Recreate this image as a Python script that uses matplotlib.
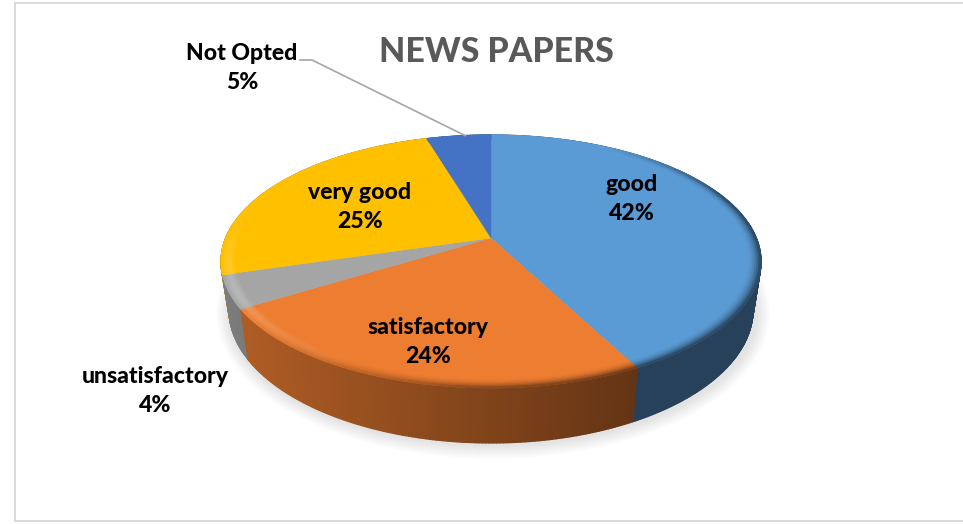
import numpy as np
import matplotlib
matplotlib.use('Agg')
import matplotlib.pyplot as plt
from matplotlib.collections import PolyCollection
from matplotlib.colors import to_rgb
from matplotlib.patches import Ellipse, Rectangle

# data, clockwise from 12 o'clock
categories = ['good', 'satisfactory', 'unsatisfactory', 'very good', 'Not Opted']
values = [42.4, 23.8, 4.2, 25.0, 4.6]
colors = ['#5b9bd5', '#ed7d31', '#a5a5a5', '#ffc000', '#4472c4']
title = 'NEWS PAPERS'

# label centres (pixels)
label_pos = [(632, 199), (428, 342), (155, 391), (360, 207), (242, 68)]

# view of the tilted disc: apex, width, tilt
cx, cy = 491.0, 238.0
a, k = 122.1, 0.1858
b = 265.3
# bottom rim relative to top rim
top_c, top_ry, top_rx = 262.0, 127.0, 270.0
bot_c, bot_ry, bot_rx = 310.0, 134.0, 262.0


def project(theta, r=1.0):
    u = r * np.sin(theta)
    v = r * np.cos(theta)
    w = 1 + k * v
    return cx + b * u / w, cy - a * v / w


def to_bottom(x, y):
    return cx + (x - cx) * bot_rx / top_rx, bot_c + (y - top_c) * bot_ry / top_ry


def side_factor(x):
    f = (x - 240.0) / (637.0 - 240.0)
    return np.clip(0.74 - 0.32 * f, 0.42, 0.8)


fig = plt.figure(figsize=(9.63, 5.24), dpi=100)
ax = fig.add_axes([0, 0, 1, 1])
ax.set_xlim(0, 963)
ax.set_ylim(524, 0)
ax.axis('off')

# frame runs off the right edge
ax.add_patch(Rectangle((14.5, 2.5), 960, 518.5, fc='white', ec='#d9d9d9', lw=1.4))

# soft shadow
for i in range(14):
    ax.add_patch(Ellipse((cx + 2, bot_c + 3), 2 * (bot_rx + 15 - i), 2 * (bot_ry + 12 - i),
                         fc='#808080', ec='none', alpha=0.016, zorder=1))

edges = np.concatenate([[0], np.cumsum(values)]) / np.sum(values) * 2 * np.pi

# side wall
quads, quad_cols = [], []
for i in range(len(values)):
    th = np.linspace(edges[i], edges[i + 1], max(3, int((edges[i + 1] - edges[i]) * 90)))
    x, y = project(th)
    xb, yb = to_bottom(x, y)
    base = np.array(to_rgb(colors[i]))
    for j in range(len(th) - 1):
        quads.append([(x[j], y[j]), (x[j + 1], y[j + 1]), (xb[j + 1], yb[j + 1]), (xb[j], yb[j])])
        quad_cols.append(base * side_factor(0.5 * (x[j] + x[j + 1])))
order = np.argsort([np.mean([p[1] for p in q]) for q in quads])
quads = [quads[i] for i in order]
quad_cols = [quad_cols[i] for i in order]
ax.add_collection(PolyCollection(quads, facecolors=quad_cols, edgecolors=quad_cols, linewidths=1.0, zorder=2))

# top face
for i in range(len(values)):
    th = np.linspace(edges[i], edges[i + 1], 120)
    x, y = project(th)
    ax.fill(np.r_[cx, x], np.r_[cy, y], color=colors[i], lw=0.3, zorder=3)

# bevel along the rim
quads, quad_cols = [], []
rings = np.linspace(0.95, 1.0, 8)
for i in range(len(values)):
    th = np.linspace(edges[i], edges[i + 1], max(3, int((edges[i + 1] - edges[i]) * 90)))
    base = np.array(to_rgb(colors[i]))
    for j in range(len(th) - 1):
        t0, t1 = th[j], th[j + 1]
        deg = np.degrees(0.5 * (t0 + t1))
        dark = np.clip((deg - 30) / 40, 0, 1) * np.clip((235 - deg) / 50, 0, 1)
        light = np.clip(1 - abs(deg - 245) / 40, 0, 1)
        for n in range(len(rings) - 1):
            r0, r1 = rings[n], rings[n + 1]
            s = (n + 0.5) / (len(rings) - 1)
            x00, y00 = project(t0, r0)
            x01, y01 = project(t1, r0)
            x11, y11 = project(t1, r1)
            x10, y10 = project(t0, r1)
            side = base * side_factor(0.5 * (x10 + x11))
            col = base * (1 - dark * s ** 2) + side * dark * s ** 2
            col = col + (1 - col) * 0.22 * light * np.sin(np.pi * s)
            quads.append([(x00, y00), (x01, y01), (x11, y11), (x10, y10)])
            quad_cols.append(np.clip(col, 0, 1))
ax.add_collection(PolyCollection(quads, facecolors=quad_cols, edgecolors=quad_cols, linewidths=0.7, zorder=4))

# leader for Not Opted
xe, ye = project(edges[4] + 0.6 * (edges[5] - edges[4]))
ax.plot([300, 312, xe], [60, 60, ye], color='#a6a6a6', lw=1.2, zorder=5)

font = ['Lato', 'DejaVu Sans']
ax.text(496, 52, title, ha='center', va='center', fontsize=24.4, fontweight=900,
        color='#595959', family=font, zorder=6)

total = sum(values)
for name, val, pos in zip(categories, values, label_pos):
    pct = '%d%%' % round(100 * val / total)
    ax.text(pos[0], pos[1], name + '\n' + pct, ha='center', va='center', fontsize=16.6,
            fontweight=900, color='black', family=font, linespacing=1.45, zorder=6)

fig.savefig('out.png', dpi=100)
